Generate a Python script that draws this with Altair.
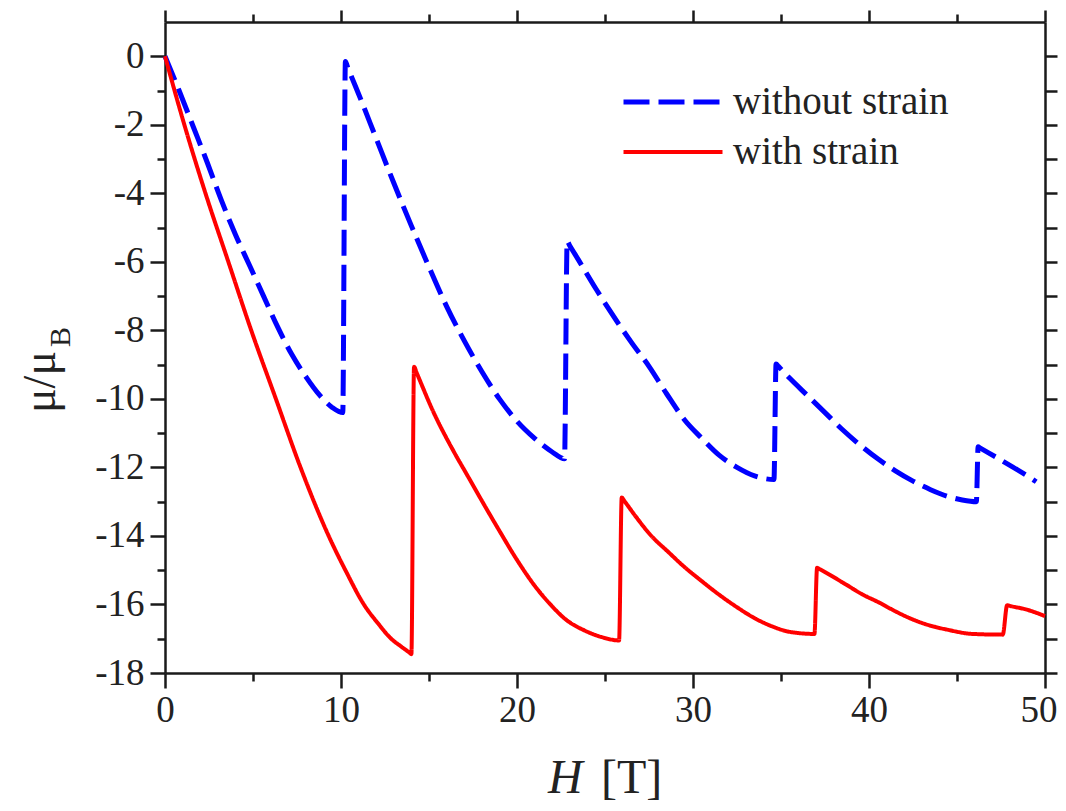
import altair as alt
import pandas as pd

# ---- data ----
series_names = ["without strain", "with strain"]

blue_H = [0, 0.8, 1.6, 2.4, 3.2, 4.0, 4.8, 5.6, 6.4, 7.2, 8.0, 8.8, 9.5, 10.1,
          10.25, 10.35, 10.6, 11.0, 12.0, 13.0, 14.0, 15.0, 16.0, 17.0, 18.0, 19.0, 20.0, 21.0, 22.0, 22.7,
          22.85, 23.0, 23.5, 24.5, 25.5, 26.5, 27.5, 28.5, 29.5, 30.5, 31.5, 32.5, 33.5, 34.6,
          34.72, 34.85, 35.5, 36.5, 37.5, 38.5, 39.5, 40.5, 41.5, 42.5, 43.5, 44.5, 45.3, 46.1,
          46.2, 46.3, 47.25, 48.2, 49.3, 49.5]
blue_mu = [0, -1.0, -2.05, -3.1, -4.2, -5.2, -6.1, -7.0, -7.9, -8.7, -9.35, -9.9, -10.25, -10.4,
           -0.15, -0.28, -0.6, -1.1, -2.4, -3.7, -4.95, -6.15, -7.3, -8.3, -9.2, -10.0, -10.65, -11.15, -11.55, -11.75,
           -5.4, -5.53, -5.95, -6.8, -7.6, -8.35, -9.05, -9.85, -10.6, -11.15, -11.65, -12.0, -12.25, -12.35,
           -8.98, -9.05, -9.4, -9.9, -10.4, -10.9, -11.35, -11.75, -12.1, -12.4, -12.65, -12.85, -12.95, -13.0,
           -11.4, -11.43, -11.71, -12.0, -12.35, -12.42]

red_H = [0, 1.1, 2.3, 3.6, 4.9, 6.3, 7.7, 9.3, 10.3, 11.3, 12.1, 12.85, 13.4, 13.9, 14.0,
         14.15, 14.3, 15.23, 16.4, 17.2, 18.1, 19.0, 20.0, 21.0, 21.9, 22.8, 23.8, 24.8, 25.8,
         25.95, 26.1, 26.7, 27.6, 28.6, 29.5, 30.5, 31.5, 32.5, 33.5, 34.5, 35.5, 36.9,
         37.05, 37.2, 38.7, 39.6, 40.6, 41.5, 42.5, 43.5, 44.4, 45.9, 47.6,
         47.85, 48.0, 48.96, 50.0]
red_mu = [0, -2.0, -4.0, -6.0, -8.0, -10.0, -12.0, -14.0, -15.05, -16.0, -16.55, -17.0, -17.22, -17.41, -17.45,
          -9.06, -9.24, -10.36, -11.53, -12.25, -13.06, -13.85, -14.7, -15.45, -16.0, -16.45, -16.75, -16.95, -17.05,
          -12.88, -12.98, -13.4, -13.98, -14.47, -14.9, -15.32, -15.72, -16.08, -16.4, -16.64, -16.8, -16.86,
          -14.93, -14.97, -15.42, -15.7, -15.95, -16.2, -16.44, -16.62, -16.73, -16.86, -16.88,
          -16.02, -16.04, -16.15, -16.34]

x_ticks = list(range(0, 51, 5))
y_ticks = list(range(-18, 1, 1))

rows = []
for i, (h, m) in enumerate(zip(blue_H, blue_mu)):
    rows.append({"series": series_names[0], "H": h, "mu": m, "idx": i})
for i, (h, m) in enumerate(zip(red_H, red_mu)):
    rows.append({"series": series_names[1], "H": h, "mu": m, "idx": i})
df = pd.DataFrame(rows)

FONT = "Liberation Serif"
AX = "#1a1a1a"

xscale = alt.Scale(domain=[0, 50], nice=False, zero=False)
yscale = alt.Scale(domain=[-18, 1], nice=False, zero=False)

bottom_axis = alt.Axis(
    values=x_ticks, grid=False, title=None,
    labelExpr="datum.value % 10 === 0 ? datum.label : ''",
    tickSize={"condition": {"test": "datum.value % 10 === 0", "value": 15}, "value": 8},
    labelAlign={"condition": {"test": "datum.value === 50", "value": "right"}, "value": "center"},
    labelOffset={"condition": {"test": "datum.value === 50", "value": 12}, "value": 0},
    tickWidth=2.5, tickColor=AX, domainColor=AX, domainWidth=2.5,
    labelFont=FONT, labelFontSize=37, labelColor="#222", labelPadding=4,
    labelFlush=False, labelOverlap=False,
)
left_axis = alt.Axis(
    values=y_ticks, grid=False, title=None,
    labelExpr="datum.value % 2 === 0 ? (datum.value < 0 ? '-' + abs(datum.value) : '' + datum.value) : ''",
    tickSize={"condition": {"test": "datum.value % 2 === 0", "value": 15}, "value": 8},
    tickWidth=2.5, tickColor=AX, domainColor=AX, domainWidth=2.5,
    labelFont=FONT, labelFontSize=37, labelColor="#222", labelPadding=6,
    labelFlush=False, labelOverlap=False,
)
top_axis = alt.Axis(
    orient="top", values=x_ticks, grid=False, title=None, labels=False,
    tickSize={"condition": {"test": "datum.value % 10 === 0", "value": 12}, "value": 8},
    tickWidth=2.5, tickColor=AX, domainColor=AX, domainWidth=2.5,
)
right_axis = alt.Axis(
    orient="right", values=y_ticks, grid=False, title=None, labels=False,
    tickSize=12, tickWidth=2.5, tickColor=AX, domainColor=AX, domainWidth=2.5,
)

legend = alt.Legend(
    orient="none", legendX=456, legendY=58, title=None,
    symbolType="stroke", symbolSize=9801, symbolStrokeWidth=6,
    labelFont=FONT, labelFontSize=39, labelColor="#222", labelOffset=8, labelLimit=500,
    clipHeight=44, rowPadding=6, padding=0,
)

lines = alt.Chart(df).mark_line(interpolate="monotone", strokeJoin="round").encode(
    x=alt.X("H:Q", scale=xscale, axis=bottom_axis),
    y=alt.Y("mu:Q", scale=yscale, axis=left_axis),
    color=alt.Color("series:N", scale=alt.Scale(domain=series_names, range=["#0000ff", "#ff0000"]), legend=legend),
    strokeDash=alt.StrokeDash("series:N", scale=alt.Scale(domain=series_names, range=[[26, 9], [1, 0]]), legend=legend),
    strokeWidth=alt.StrokeWidth("series:N", scale=alt.Scale(domain=series_names, range=[5, 4]), legend=None),
    order="idx:Q",
)

frame = alt.Chart(df).mark_point(opacity=0).encode(
    x=alt.X("H:Q", scale=xscale, axis=top_axis),
    y=alt.Y("mu:Q", scale=yscale, axis=right_axis),
)

one = pd.DataFrame({"k": [0]})
ytitle1 = alt.Chart(one).mark_text(text="μ/μ", angle=270, font=FONT, fontSize=46, color="#222",
                                   align="center", baseline="middle").encode(
    x=alt.value(-124), y=alt.value(360))
ytitle2 = alt.Chart(one).mark_text(text="B", angle=270, font=FONT, fontSize=30, color="#222",
                                   align="center", baseline="middle").encode(
    x=alt.value(-104), y=alt.value(315))
xtitle1 = alt.Chart(one).mark_text(text="H", font=FONT, fontSize=48, fontStyle="italic", color="#222",
                                   align="left", baseline="alphabetic").encode(
    x=alt.value(383), y=alt.value(771))
xtitle2 = alt.Chart(one).mark_text(text="[T]", font=FONT, fontSize=48, color="#222",
                                   align="left", baseline="alphabetic").encode(
    x=alt.value(436), y=alt.value(771))

chart = alt.layer(lines, frame, ytitle1, ytitle2, xtitle1, xtitle2).resolve_axis(
    x="independent", y="independent"
).properties(
    width=880, height=651,
    autosize=alt.AutoSizeParams(type="none"),
    padding={"left": 157, "top": 14, "right": 13, "bottom": 130},
).configure_view(stroke=None)

chart.save("out.html", embed_options={"renderer": "svg", "actions": False})
